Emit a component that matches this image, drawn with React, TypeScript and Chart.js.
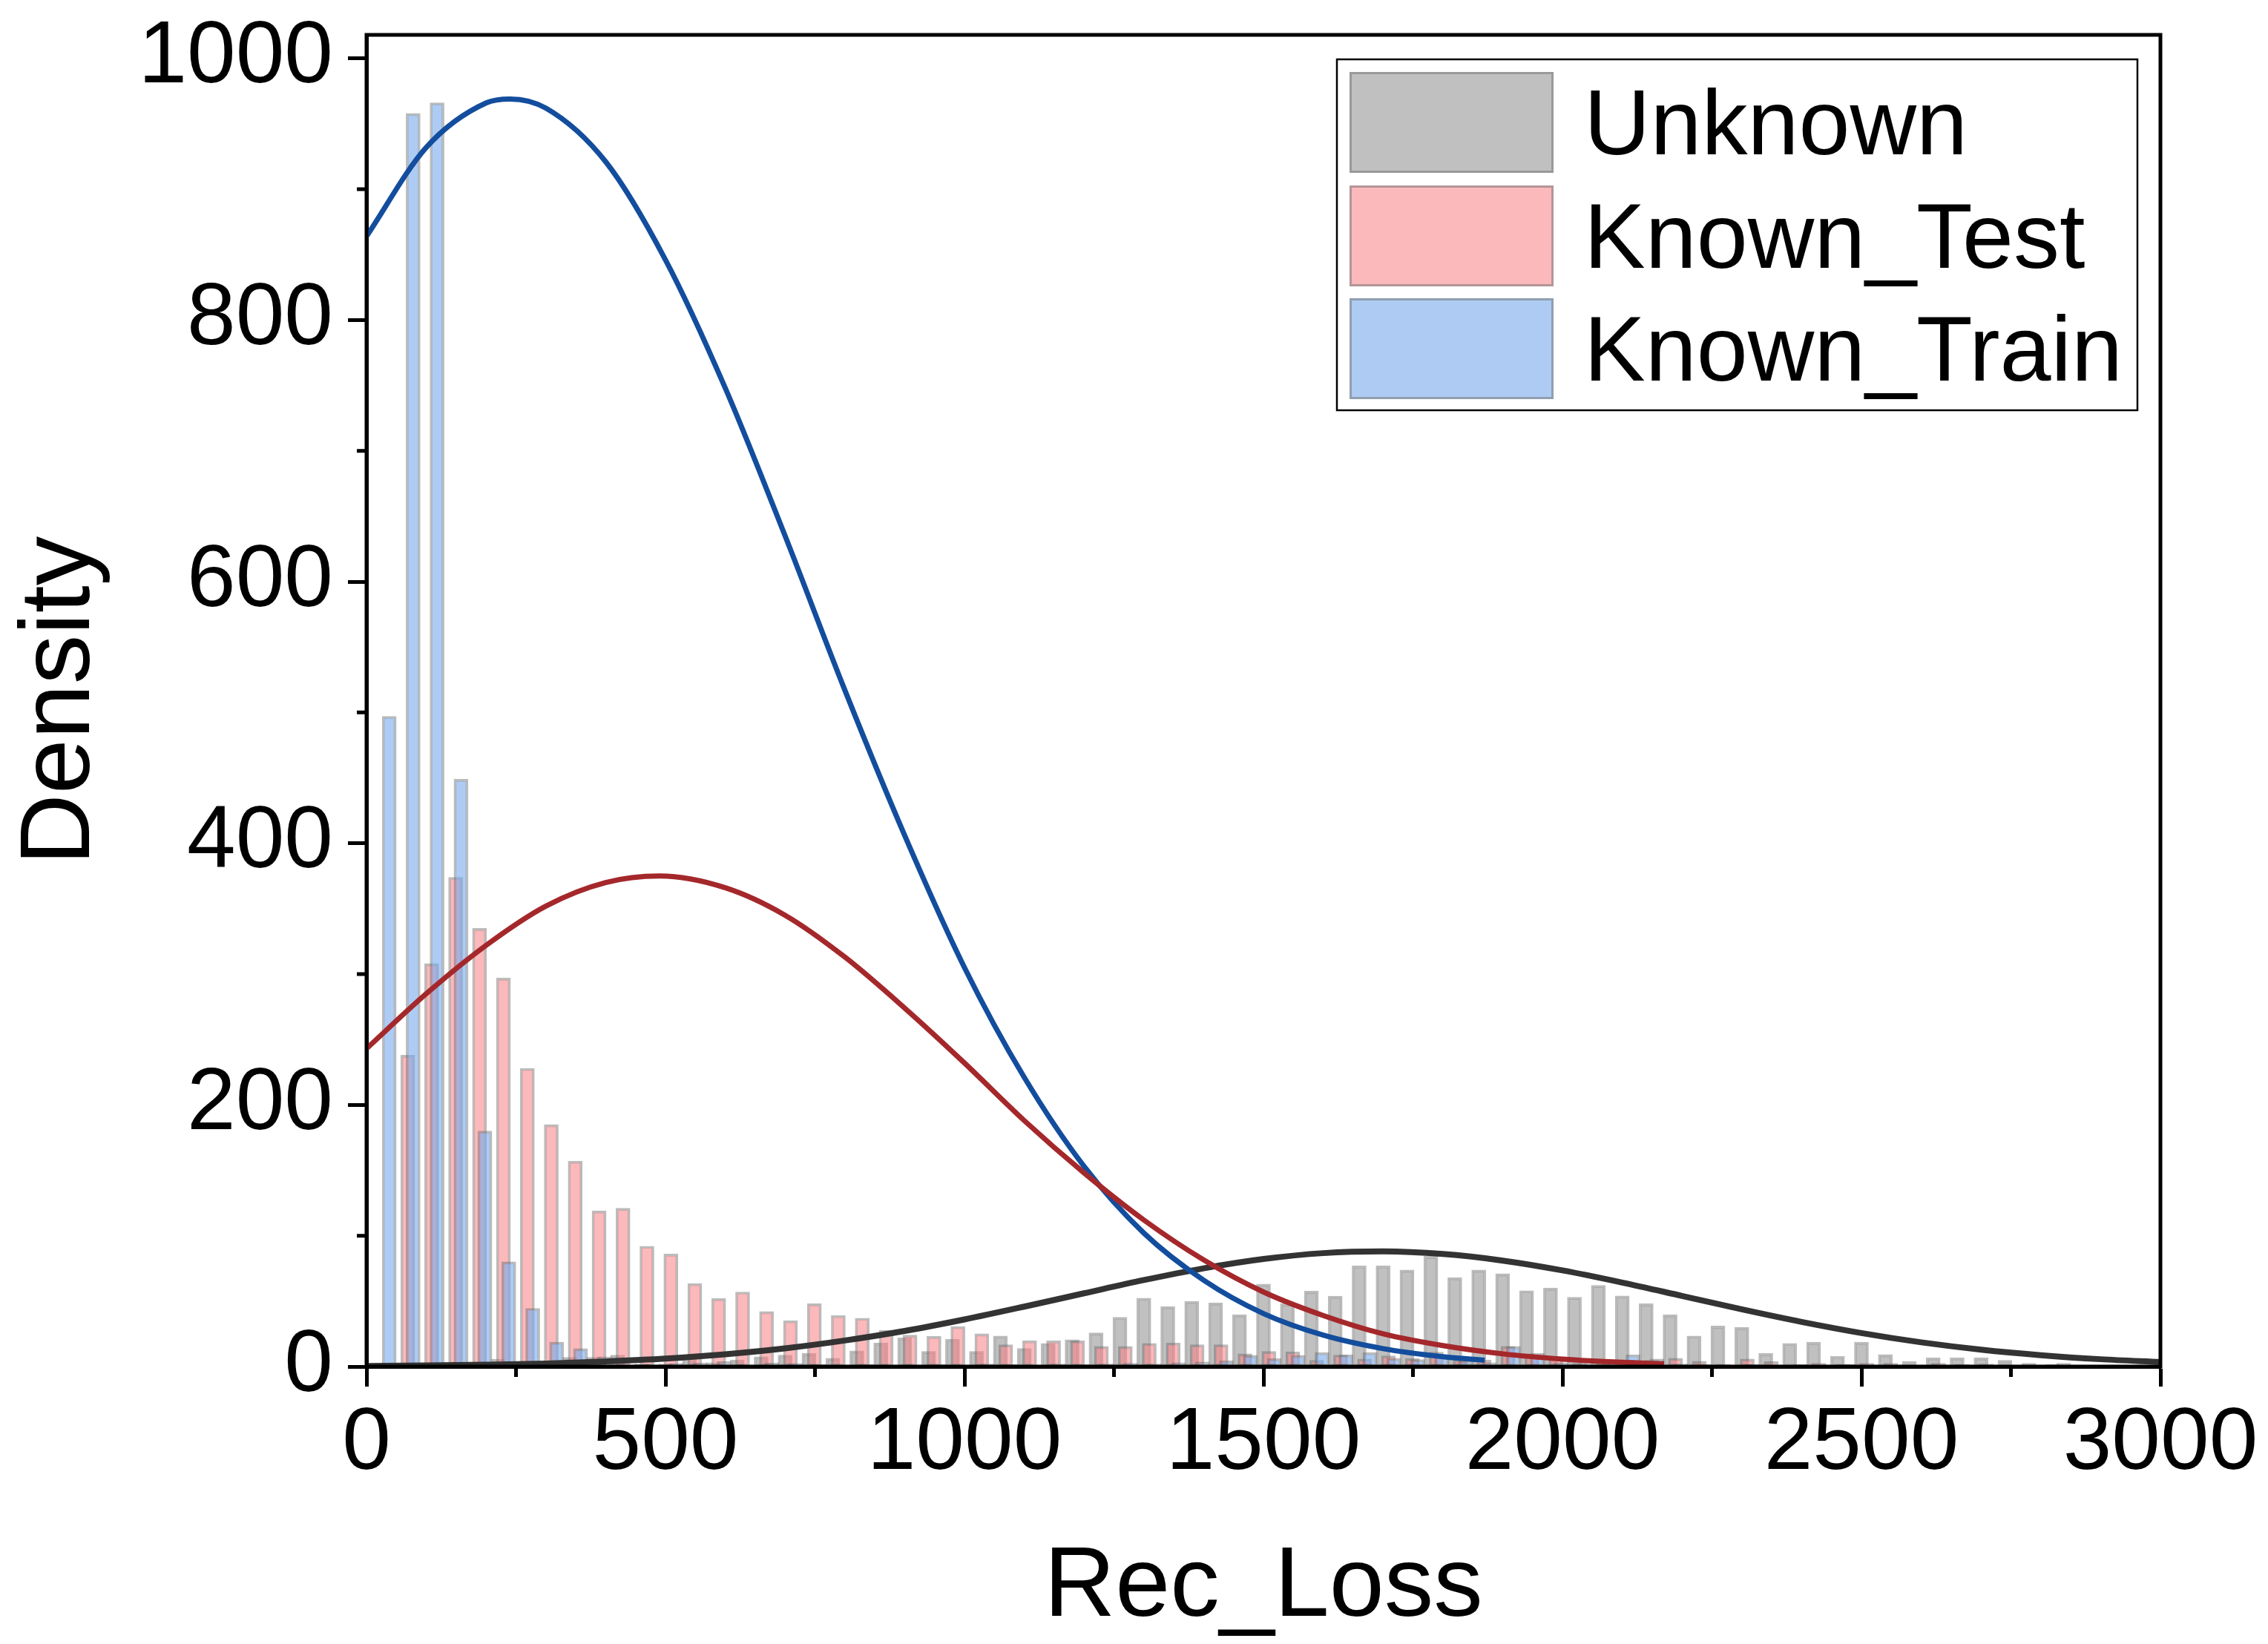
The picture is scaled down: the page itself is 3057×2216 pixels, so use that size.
import { useEffect, useRef } from 'react';
import { Chart, registerables, type Plugin } from 'chart.js';

Chart.register(...registerables);

// ── Canvas / layout ────────────────────────────────────────────────────────────

const W = 3057;
const H = 2216;
const AREA = { left: 494, right: 2912, top: 47, bottom: 1842 };
const FONT = "'Liberation Sans', Arial, Helvetica, sans-serif";

const C = {
  trainFill:   'rgba(120,170,235,0.6)',
  testFill:    'rgba(248,128,133,0.55)',
  unknownFill: 'rgba(140,140,140,0.55)',
  barBorder:   'rgba(105,105,105,0.45)',
  trainLine:   '#134d9d',
  testLine:    '#a4282b',
  unknownLine: '#333333',
  axis:        '#000000',
} as const;

// ── Data ───────────────────────────────────────────────────────────────────────

const BIN = 40;
const TRAIN_START = 38;
const TEST_START = 69;
const UNKNOWN_START = 20;

const TRAIN_DENSITY = [
  497, 958, 966, 449, 180, 80, 44.5, 18.6, 13.7, 7.5,
  1.3, 1.3, 2.4, 2.8, 3.8, 1, 2.8, 2.4, 1.5, 1,
  1.5, 1, 1, 1.5, 1, 2, 1.5, 1, 2, 1.5,
  2, 2.5, 2, 3, 3.5, 4.5, 8.6, 6, 8.6, 10.7,
  9, 10.7, 6.3, 5.3, 9, 4.4, 3, 15.4, 10, 3,
  2, 4.4, 9, 5.7, 2, 1.5, 1, 1.5, 1, 1.5,
  1, 1.5, 1, 1, 1, 0.5, 1, 0.5, 1, 0.5,
  2.5, 0.5,
];

const TEST_DENSITY = [
  238, 308, 374, 335, 297, 228, 185, 157, 119, 121,
  92, 86, 63.5, 52, 57, 42, 35, 48, 39, 37,
  27.6, 24, 23, 30.6, 25, 16.7, 19.8, 19.6, 19.6, 15.4,
  15.4, 17.7, 18, 16.7, 16.7, 9.7, 11.6, 11.2, 4.8, 8.8,
  5.7, 8.2, 6, 11, 5, 5, 15.4, 9, 6.3, 2.5,
  4.4, 3, 4.8, 6.3, 4, 1.5, 5.7, 3.8, 1, 2.5,
  1.5, 2.5, 2.5, 0.5, 2.5, 1.5, 2, 1, 0.5, 1,
  1, 0.5,
];

const UNKNOWN_DENSITY = [
  0, 0, 0.5, 1, 3.2, 5.6, 1, 1, 7, 7,
  8.8, 2, 2, 8.8, 3, 5, 7.5, 8.8, 10, 6.3,
  12, 18, 22, 11.6, 21, 11.6, 23.4, 13.9, 17.7, 20.5,
  25.7, 37.7, 52.3, 45.9, 49.8, 48.7, 39.6, 63, 48, 57.6,
  53.8, 77, 77, 73.8, 84.3, 68, 73.8, 71, 58, 60,
  53, 62, 54, 48, 39.6, 23.4, 31, 30, 10, 17.7,
  18.6, 7.8, 18.6, 9.1, 3.8, 6.7, 6.7, 6.7, 4.8, 2.5,
  1.5, 1, 1, 0.5,
];

// fitted curves
const TRAIN_FIT_X = [0, 100, 200, 240, 300, 400, 500, 600, 700, 800, 900, 1000, 1100, 1200, 1300, 1400, 1500, 1600, 1700, 1800, 1870];
const TRAIN_FIT_Y = [864, 932, 966, 969, 962, 921, 846, 748, 635, 517, 406, 305, 221, 153, 102, 66, 40.5, 24, 13.7, 7.5, 4.8];

const TEST_FIT_X = [0, 100, 200, 300, 400, 490, 600, 700, 800, 900, 1000, 1100, 1200, 1300, 1400, 1500, 1600, 1700, 1800, 1900, 2000, 2100, 2170];
const TEST_FIT_Y = [243, 285, 322, 352, 370, 375, 366, 345, 313, 274, 232, 188, 148, 112, 81.5, 57, 39, 25, 16, 9.7, 5.7, 3.2, 2.1];

const UNKNOWN_FIT_X = [0, 100, 200, 300, 400, 500, 600, 700, 800, 900, 1000, 1100, 1200, 1300, 1400, 1500, 1600, 1700, 1800, 1900, 2000, 2100, 2200, 2300, 2400, 2500, 2600, 2700, 2800, 2900, 3000];
const UNKNOWN_FIT_Y = [0.4, 0.8, 1.4, 2.3, 3.9, 6.1, 9.4, 13.9, 19.9, 27.2, 36, 45.8, 56, 66.1, 75.1, 82.2, 86.7, 88, 86, 81, 73.5, 64.2, 54, 43.7, 34.1, 25.6, 18.5, 12.9, 8.7, 5.6, 3.5];

const X_TICKS = [0, 500, 1000, 1500, 2000, 2500, 3000];
const X_MINOR = [250, 750, 1250, 1750, 2250, 2750];
const Y_TICKS = [0, 200, 400, 600, 800, 1000];
const Y_MINOR = [100, 300, 500, 700, 900];

const LEGEND_LABELS = ['Unknown', 'Known_Test', 'Known_Train'];
const LEGEND_FILLS = [C.unknownFill, C.testFill, C.trainFill];

const toBins = (start: number, values: number[]) => values.map((y, i) => ({ x: start + i * BIN, y }));
const toCurve = (xs: number[], ys: number[]) => xs.map((x, i) => ({ x, y: ys[i] }));

// ── Frame, minor ticks and legend box ──────────────────────────────────────────

const decorations: Plugin<'bar'> = {
  id: 'decorations',
  afterDraw(chart) {
    const { ctx, chartArea: a, scales } = chart;
    ctx.save();
    ctx.strokeStyle = C.axis;
    ctx.lineWidth = 5;
    ctx.strokeRect(a.left, a.top, a.right - a.left, a.bottom - a.top);

    ctx.beginPath();
    X_MINOR.forEach((v) => {
      const px = scales.x.getPixelForValue(v);
      ctx.moveTo(px, a.bottom);
      ctx.lineTo(px, a.bottom + 14);
    });
    Y_MINOR.forEach((v) => {
      const py = scales.y.getPixelForValue(v);
      ctx.moveTo(a.left, py);
      ctx.lineTo(a.left - 13, py);
    });
    ctx.stroke();

    // legend
    ctx.fillStyle = '#fff';
    ctx.fillRect(1802, 80, 1079, 473);
    ctx.lineWidth = 2.5;
    ctx.strokeRect(1802, 80, 1079, 473);
    const tops = [97, 250, 402];
    LEGEND_LABELS.forEach((label, i) => {
      ctx.fillStyle = LEGEND_FILLS[i];
      ctx.fillRect(1819, tops[i], 275, 136);
      ctx.strokeStyle = 'rgba(120,120,120,0.55)';
      ctx.lineWidth = 3;
      ctx.strokeRect(1820.5, tops[i] + 1.5, 272, 133);
      ctx.fillStyle = '#000';
      ctx.font = `124px ${FONT}`;
      ctx.textBaseline = 'alphabetic';
      ctx.textAlign = 'left';
      ctx.fillText(label, 2135, tops[i] + 68 + 43);
    });
    ctx.restore();
  },
};

// ── Chart ──────────────────────────────────────────────────────────────────────

export default function App() {
  const canvasRef = useRef<HTMLCanvasElement>(null);

  useEffect(() => {
    const canvas = canvasRef.current;
    if (!canvas) return;

    const bar = (label: string, start: number, values: number[], fill: string, order: number) => ({
      type: 'bar' as const,
      label,
      data: toBins(start, values),
      backgroundColor: fill,
      borderColor: C.barBorder,
      borderWidth: 3,
      borderSkipped: false,
      barThickness: 19,
      grouped: false,
      order,
    });

    const line = (label: string, xs: number[], ys: number[], color: string, width: number, order: number) => ({
      type: 'line' as const,
      label,
      data: toCurve(xs, ys),
      borderColor: color,
      borderWidth: width,
      pointRadius: 0,
      fill: false,
      cubicInterpolationMode: 'monotone' as const,
      order,
    });

    const chart = new Chart(canvas, {
      type: 'bar',
      data: {
        datasets: [
          line('Known_Test fit', TEST_FIT_X, TEST_FIT_Y, C.testLine, 7, 0),
          line('Known_Train fit', TRAIN_FIT_X, TRAIN_FIT_Y, C.trainLine, 7, 1),
          line('Unknown fit', UNKNOWN_FIT_X, UNKNOWN_FIT_Y, C.unknownLine, 8, 2),
          bar('Known_Train', TRAIN_START, TRAIN_DENSITY, C.trainFill, 3),
          bar('Known_Test', TEST_START, TEST_DENSITY, C.testFill, 4),
          bar('Unknown', UNKNOWN_START, UNKNOWN_DENSITY, C.unknownFill, 5),
        ] as any,
      },
      options: {
        responsive: false,
        devicePixelRatio: 1,
        animation: false,
        layout: { padding: { left: 0, right: W - AREA.right, top: AREA.top, bottom: 0 } },
        plugins: { legend: { display: false }, tooltip: { enabled: false } },
        scales: {
          x: {
            type: 'linear',
            min: 0,
            max: 3000,
            offset: false,
            afterBuildTicks: (s) => { s.ticks = X_TICKS.map((value) => ({ value })); },
            afterFit: (s) => { s.height = H - AREA.bottom; s.paddingLeft = 0; s.paddingRight = 0; },
            ticks: {
              color: '#000',
              font: { family: FONT, size: 118, lineHeight: 1 },
              padding: 19,
              maxRotation: 0,
              autoSkip: false,
              callback: (v) => String(v),
            },
            grid: { offset: false, drawOnChartArea: false, drawTicks: true, tickLength: 27, tickWidth: 5, tickColor: C.axis },
            border: { display: true, color: C.axis, width: 5 },
            title: {
              display: true,
              text: 'Rec_Loss',
              color: '#000',
              font: { family: FONT, size: 133, lineHeight: 1.1 },
              padding: { top: 0, bottom: 2 },
            },
          },
          y: {
            type: 'linear',
            min: 0,
            max: 1018,
            afterBuildTicks: (s) => { s.ticks = Y_TICKS.map((value) => ({ value })); },
            afterFit: (s) => { s.width = AREA.left; s.paddingTop = 0; s.paddingBottom = 0; },
            ticks: {
              color: '#000',
              font: { family: FONT, size: 118, lineHeight: 1.2 },
              padding: 20,
              includeBounds: false,
              callback: (v) => String(v),
            },
            grid: { drawOnChartArea: false, drawTicks: true, tickLength: 25, tickWidth: 5, tickColor: C.axis },
            border: { display: true, color: C.axis, width: 5 },
            title: {
              display: true,
              text: 'Density',
              color: '#000',
              font: { family: FONT, size: 133, lineHeight: 1.2 },
              padding: { top: 4, bottom: 0 },
            },
          },
        },
      },
      plugins: [decorations],
    });

    return () => { chart.destroy(); };
  }, []);

  return (
    <div style={{ position: 'fixed', left: 0, top: 0, width: W, height: H, background: '#fff' }}>
      <canvas ref={canvasRef} width={W} height={H} />
    </div>
  );
}
